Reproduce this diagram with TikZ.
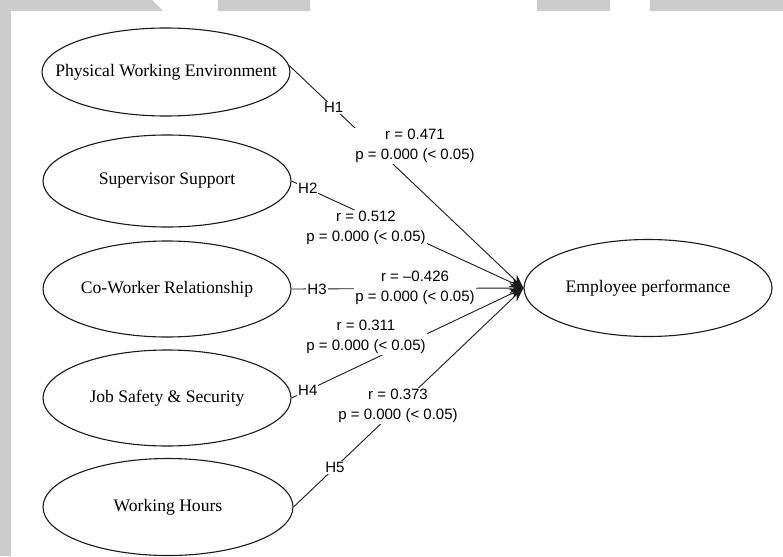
\documentclass[tikz,border=0pt]{standalone}
\usepackage{fontspec}
\setmainfont{Liberation Serif}
\newfontfamily\labelsans{Liberation Sans}
\usetikzlibrary{shapes.geometric,arrows.meta}
\definecolor{bandgray}{HTML}{CCCCCC}
\definecolor{ink}{HTML}{1A1A1A}
\begin{document}
\begin{tikzpicture}[x=1pt,y=-1pt,
  construct/.style={ellipse,draw=ink,line width=1.1pt,minimum width=248pt,
    minimum height=96pt,inner xsep=-30pt,inner ysep=0pt,
    font=\fontsize{17.6}{20}\selectfont},
  link/.style={draw=ink,line width=0.9pt,-{Stealth[length=14pt,width=10pt]}},
  hyp/.style={fill=white,inner sep=1pt,font=\labelsans\fontsize{15}{18}\selectfont},
  stat/.style={fill=white,inner sep=1pt,align=center,
    font=\labelsans\fontsize{15}{20.5}\selectfont}
]
\useasboundingbox (0,0) rectangle (783,556);
\fill[white] (0,0) rectangle (783,556);
% page edge bands
\fill[bandgray] (0,0) rectangle (11,556);
\fill[bandgray] (0,0) -- (152,0) -- (163,11) -- (0,11) -- cycle;
\fill[bandgray] (218,0) rectangle (310,11);
\fill[bandgray] (537,0) rectangle (610,11);
\fill[bandgray] (650,0) rectangle (783,11);

% constructs
\node[construct,minimum height=88pt] (e1) at (166,72) {Physical Working Environment};
\node[construct,minimum height=92pt] (e2) at (167,181) {Supervisor Support};
\node[construct] (e3) at (167,289) {Co-Worker Relationship};
\node[construct] (e4) at (167,398) {Job Safety \& Security};
\node[construct,minimum width=250pt,minimum height=97pt] (e5) at (168,507) {Working Hours};
\node[construct,minimum height=97pt] (ep) at (648,288) {Employee performance};

% hypothesised paths
\draw[link] (e1.3) -- node[hyp,pos=0.19] {H1} (ep.west);
\draw[link] (e2.east) -- node[hyp,pos=0.07] {H2} (ep.west);
\draw[link] (e3.east) -- node[hyp,pos=0.11] {H3} (ep.west);
\draw[link] (e4.east) -- node[hyp,pos=0.07] {H4} (ep.west);
\draw[link] (e5.east) -- node[hyp,pos=0.18] {H5} (ep.west);

% path coefficients
\node[stat] (s1) at (415,146) {r = 0.471\\p = 0.000 (< 0.05)};
\node[stat] (s2) at (366,228) {r = 0.512\\p = 0.000 (< 0.05)};
\node[stat] (s3) at (415,288) {r = –0.426\\p = 0.000 (< 0.05)};
\node[stat] (s4) at (366,337) {r = 0.311\\p = 0.000 (< 0.05)};
\node[stat] (s5) at (398,406) {r = 0.373\\p = 0.000 (< 0.05)};
\end{tikzpicture}
\end{document}
